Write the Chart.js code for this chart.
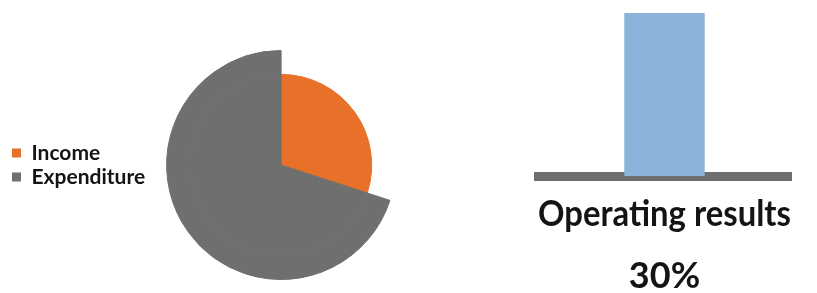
<!DOCTYPE html>
<html>
<head>
<meta charset="utf-8">
<style>
  body { margin: 0; background: #fff; }
  .box { position: absolute; top: 0; }
</style>
</head>
<body>
<div class="box" style="left:0; width:407px; height:293px;"><canvas id="shareChart"></canvas></div>
<div class="box" style="left:500px; width:317px; height:293px;"><canvas id="resultChart"></canvas></div>

<script src="https://cdn.jsdelivr.net/npm/chart.js"></script>
<script>
// income vs expenditure split (percent)
const pieLabels = ['Income', 'Expenditure'];
const pieValues = [30, 70];
const pieColors = ['#e8712a', '#6e6f6e'];

// operating result bar
const resultLabels = ['Operating results'];
const resultValues = [30];
const resultTitle = [resultLabels[0], resultValues[0] + '%'];

const textColor = '#141414';

// expenditure slice sticks out further than income: outer ring only carries the gray part
const ringColors = pieColors.map(function(c, i) { return i === 0 ? 'rgba(0,0,0,0)' : c; });

new Chart(document.getElementById('shareChart'), {
  type: 'pie',
  data: {
    labels: pieLabels,
    datasets: [{
      data: pieValues,
      backgroundColor: ringColors,
      borderColor: ringColors,
      borderWidth: 1,
      weight: 24
    }, {
      data: pieValues,
      backgroundColor: pieColors,
      borderColor: pieColors,
      borderWidth: 1,
      weight: 91
    }]
  },
  options: {
    responsive: true,
    maintainAspectRatio: false,
    animation: false,
    layout: { padding: { left: 9, top: 50, bottom: 13, right: 0 } },
    plugins: {
      tooltip: { enabled: false },
      legend: {
        position: 'left',
        labels: {
          boxWidth: 9,
          boxHeight: 9,
          padding: 3,
          color: textColor,
          font: { family: 'Lato', size: 21, weight: 'bold' },
          generateLabels: function(chart) {
            return chart.data.labels.map(function(l, i) {
              return { text: l, fillStyle: pieColors[i], strokeStyle: pieColors[i], lineWidth: 0, fontColor: textColor, index: i };
            });
          }
        }
      }
    }
  }
});

new Chart(document.getElementById('resultChart'), {
  type: 'bar',
  data: {
    labels: resultLabels,
    datasets: [{
      data: resultValues,
      backgroundColor: '#8ab4da',
      barPercentage: 0.318,
      categoryPercentage: 1
    }]
  },
  options: {
    responsive: true,
    maintainAspectRatio: false,
    animation: false,
    layout: { padding: { left: 38, right: 26, top: 13, bottom: 0 } },
    plugins: { legend: { display: false }, tooltip: { enabled: false } },
    scales: {
      y: { display: false, min: 0, max: 30 },
      x: {
        z: 1,
        grid: { display: false, drawTicks: false },
        border: { display: true, color: '#6e6e6e', width: 9 },
        ticks: { display: false },
        title: {
          display: true,
          text: resultTitle,
          color: textColor,
          padding: { top: 7, bottom: -14 },
          font: { family: 'Lato', size: 36, weight: 'bold', lineHeight: 1.7222 }
        }
      }
    }
  }
});
</script>
</body>
</html>
